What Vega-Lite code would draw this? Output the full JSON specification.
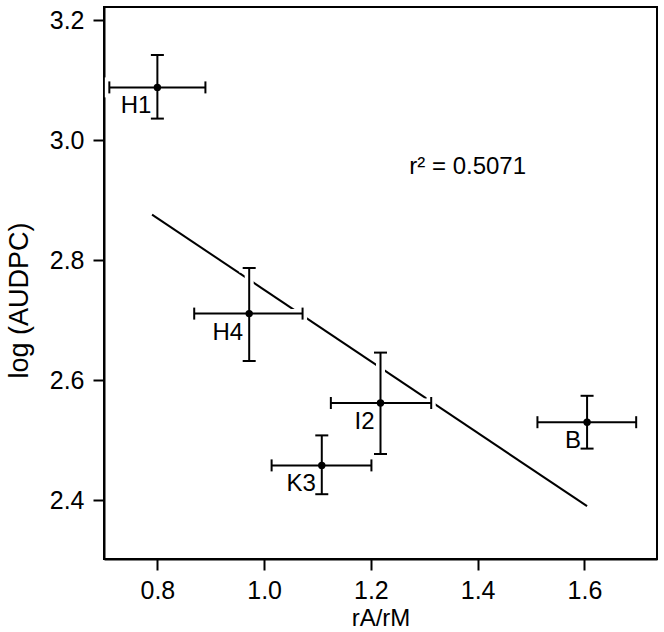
{
  "$schema": "https://vega.github.io/schema/vega-lite/v6.json",
  "width": 553,
  "height": 552,
  "autosize": {"type": "none"},
  "padding": {"left": 104, "top": 7, "right": 7, "bottom": 73},
  "background": "white",
  "config": {
    "font": "Liberation Sans",
    "view": {"stroke": "black", "strokeWidth": 2},
    "axis": {
      "grid": false,
      "domainColor": "black",
      "domainWidth": 2,
      "tickColor": "black",
      "tickWidth": 2,
      "tickSize": 11,
      "labelFont": "Liberation Sans",
      "labelFontSize": 25,
      "labelColor": "black",
      "titleFont": "Liberation Sans",
      "titleFontSize": 24,
      "titleFontWeight": "normal",
      "titleColor": "black"
    }
  },
  "datasets": {
    "pts": [
      {"name": "H1", "x": 0.80, "y": 3.088, "xlo": 0.710, "xhi": 0.890, "ylo": 3.036, "yhi": 3.142},
      {"name": "H4", "x": 0.972, "y": 2.711, "xlo": 0.869, "xhi": 1.072, "ylo": 2.632, "yhi": 2.787},
      {"name": "K3", "x": 1.108, "y": 2.458, "xlo": 1.014, "xhi": 1.201, "ylo": 2.410, "yhi": 2.508},
      {"name": "I2", "x": 1.218, "y": 2.562, "xlo": 1.125, "xhi": 1.313, "ylo": 2.477, "yhi": 2.646},
      {"name": "B", "x": 1.605, "y": 2.530, "xlo": 1.512, "xhi": 1.697, "ylo": 2.486, "yhi": 2.574}
    ],
    "fit": [
      {"x": 0.790, "y": 2.876},
      {"x": 1.605, "y": 2.390}
    ],
    "ann": [
      {"x": 1.272, "y": 2.943, "label": "r² = 0.5071"}
    ]
  },
  "encoding": {
    "x": {
      "type": "quantitative",
      "scale": {"domain": [0.7, 1.736], "nice": false, "zero": false},
      "axis": {"values": [0.8, 1.0, 1.2, 1.4, 1.6], "format": ".1f", "title": "rA/rM", "labelPadding": 8, "titlePadding": 3}
    },
    "y": {
      "type": "quantitative",
      "scale": {"domain": [2.302, 3.222], "nice": false, "zero": false},
      "axis": {"values": [2.4, 2.6, 2.8, 3.0, 3.2], "format": ".1f", "title": "log (AUDPC)", "titleFontSize": 27, "titleY": 293, "labelPadding": 9, "titlePadding": 16}
    }
  },
  "layer": [
    {
      "data": {"name": "fit"},
      "mark": {"type": "line", "color": "black", "strokeWidth": 2},
      "encoding": {"x": {"field": "x"}, "y": {"field": "y"}}
    },
    {
      "data": {"name": "pts"},
      "mark": {"type": "rule", "color": "white", "strokeWidth": 9},
      "encoding": {"x": {"field": "xlo"}, "x2": {"field": "xhi"}, "y": {"field": "y"}}
    },
    {
      "data": {"name": "pts"},
      "mark": {"type": "rule", "color": "white", "strokeWidth": 9},
      "encoding": {"x": {"field": "x"}, "y": {"field": "ylo"}, "y2": {"field": "yhi"}}
    },
    {
      "data": {"name": "pts"},
      "transform": [{"fold": ["xlo", "xhi"], "as": ["end", "xe"]}],
      "mark": {"type": "tick", "orient": "vertical", "color": "white", "thickness": 9, "size": 20, "opacity": 1},
      "encoding": {"x": {"field": "xe"}, "y": {"field": "y"}}
    },
    {
      "data": {"name": "pts"},
      "transform": [{"fold": ["ylo", "yhi"], "as": ["end", "ye"]}],
      "mark": {"type": "tick", "orient": "horizontal", "color": "white", "thickness": 9, "size": 20, "opacity": 1},
      "encoding": {"x": {"field": "x"}, "y": {"field": "ye"}}
    },
    {
      "data": {"name": "pts"},
      "mark": {"type": "rule", "color": "black", "strokeWidth": 2},
      "encoding": {"x": {"field": "xlo"}, "x2": {"field": "xhi"}, "y": {"field": "y"}}
    },
    {
      "data": {"name": "pts"},
      "mark": {"type": "rule", "color": "black", "strokeWidth": 2},
      "encoding": {"x": {"field": "x"}, "y": {"field": "ylo"}, "y2": {"field": "yhi"}}
    },
    {
      "data": {"name": "pts"},
      "transform": [{"fold": ["xlo", "xhi"], "as": ["end", "xe"]}],
      "mark": {"type": "tick", "orient": "vertical", "color": "black", "thickness": 2, "size": 12, "opacity": 1},
      "encoding": {"x": {"field": "xe"}, "y": {"field": "y"}}
    },
    {
      "data": {"name": "pts"},
      "transform": [{"fold": ["ylo", "yhi"], "as": ["end", "ye"]}],
      "mark": {"type": "tick", "orient": "horizontal", "color": "black", "thickness": 2, "size": 13, "opacity": 1},
      "encoding": {"x": {"field": "x"}, "y": {"field": "ye"}}
    },
    {
      "data": {"name": "pts"},
      "mark": {"type": "point", "filled": true, "color": "black", "size": 55, "opacity": 1},
      "encoding": {"x": {"field": "x"}, "y": {"field": "y"}}
    },
    {
      "data": {"name": "pts"},
      "mark": {"type": "text", "align": "right", "baseline": "top", "dx": -6, "dy": 7, "fontSize": 24, "font": "Liberation Sans", "color": "black"},
      "encoding": {"x": {"field": "x"}, "y": {"field": "y"}, "text": {"field": "name"}}
    },
    {
      "data": {"name": "ann"},
      "mark": {"type": "text", "align": "left", "baseline": "alphabetic", "fontSize": 24, "font": "Liberation Sans", "color": "black"},
      "encoding": {"x": {"field": "x"}, "y": {"field": "y"}, "text": {"field": "label"}}
    }
  ]
}
